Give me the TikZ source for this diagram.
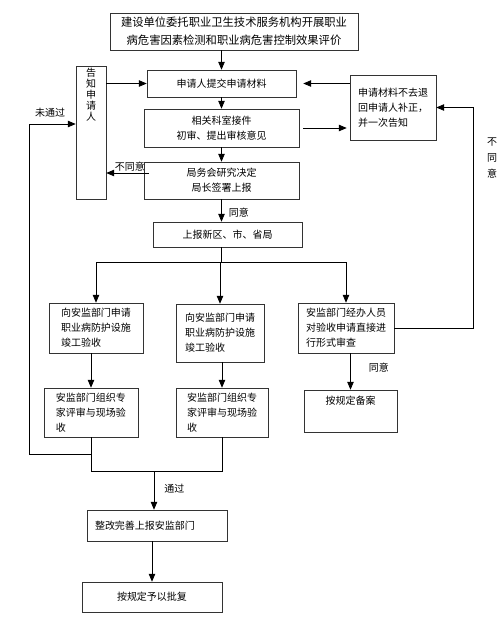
\documentclass[tikz,border=0pt]{standalone}
\usepackage{fontspec}
\setmainfont{Noto Sans CJK SC}
\usetikzlibrary{arrows,positioning,calc}

\tikzset{
  box/.style={draw=black!80, semithick, inner sep=2pt, font=\fontsize{10}{15}\selectfont},
  flow/.style={arrows=-triangle 45, thick},
  line/.style={thick},
  tag/.style={font=\fontsize{10}{12}\selectfont, inner sep=1pt},
}

\begin{document}
\begin{tikzpicture}[x=1pt,y=-1pt]
  \useasboundingbox (0,0) rectangle (500,633);

  \node[box, minimum width=248, minimum height=37, align=center, font=\fontsize{11.3}{18}\selectfont] (title) at (234,31.5) {建设单位委托职业卫生技术服务机构开展职业\\病危害因素检测和职业病危害控制效果评价};
  \node[box, minimum width=149, minimum height=27] (submit) at (221.5,83.5) {申请人提交申请材料};
  \node[box, minimum width=30, minimum height=133] (notify) at (91,132.5) {};
  \node[tag, align=center, font=\fontsize{10}{11}\selectfont, below=1pt of notify.north] (notifytext) {告\\知\\申\\请\\人};
  \node[box, minimum width=86, minimum height=65, align=left] (supplement) at (393,107.5) {申请材料不去退\\回申请人补正，\\并一次告知};
  \node[box, minimum width=155, minimum height=38, align=center] (review) at (221.5,128) {相关科室接件\\初审、提出审核意见};
  \node[box, minimum width=155, minimum height=37, align=center] (decide) at (221.5,180.5) {局务会研究决定\\局长签署上报};
  \node[box, minimum width=149, minimum height=25] (report) at (227.5,234.5) {上报新区、市、省局};

  \node[box, minimum width=94, minimum height=50, align=left] (apply1) at (96,328) {向安监部门申请\\职业病防护设施\\竣工验收};
  \node[box, minimum width=88, minimum height=58, align=left] (apply2) at (220,333) {向安监部门申请\\职业病防护设施\\竣工验收};
  \node[box, minimum width=96, minimum height=50, align=left] (check) at (346,328) {安监部门经办人员\\对验收申请直接进\\行形式审查};
  \node[box, minimum width=94, minimum height=49, align=left] (expert1) at (91,412.5) {安监部门组织专\\家评审与现场验\\收};
  \node[box, minimum width=92, minimum height=49, align=left] (expert2) at (222,412.5) {安监部门组织专\\家评审与现场验\\收};
  \node[box, minimum width=93, minimum height=42] (record) at (350.5,411) {};
  \node[tag, below=5pt of record.north] (recordtext) {按规定备案};
  \node[box, minimum width=140, minimum height=31, align=left, text width=124] (rectify) at (157,525.5) {整改完善上报安监部门};
  \node[box, minimum width=140, minimum height=30] (approve) at (152,597) {按规定予以批复};

  \draw[flow] (title.south -| submit.north) -- (submit.north);
  \draw[flow] (notify.east |- submit.west) -- (submit.west);
  \draw[flow, shorten >=7pt] (supplement.west |- submit.east) -- (submit.east);
  \draw[flow] (submit) -- (review);
  \draw[flow, shorten <=4pt, shorten >=3pt] (review.east) -- (review.east -| supplement.west);
  \draw[flow] (review) -- (decide);

  \coordinate (refuse) at (149,173);
  \draw[flow] (refuse) -- (refuse -| notify.east) node[tag, pos=0.45, above] (refusetext) {不同意};
  \draw[flow] (decide.south) -- (decide.south |- report.north) node[tag, pos=0.6, right=6pt] (agree1) {同意};

  \coordinate (split) at (221.5,262);
  \draw[line] (decide.south |- report.south) -- (split);
  \draw[flow] (split) -| (apply1.north);
  \draw[flow] (split) -| (apply2.north);
  \draw[flow] (split) -| (check.north);

  \draw[flow] (apply1.south -| expert1.north) -- (expert1.north);
  \draw[flow] (apply2.south -| expert2.north) -- (expert2.north);
  \draw[flow] (check.south -| record.north) -- (record.north) node[tag, pos=0.4, right=17pt] (agree2) {同意};

  \draw[flow] (check.east) -| ($(supplement.east)+(37,0)$) -- (supplement.east);
  \node[tag, align=center, font=\fontsize{10}{16}\selectfont] (refuse2) at (492,158) {不\\同\\意};

  \coordinate (merge) at (154,471);
  \draw[line] (expert1.south) -- (expert1.south |- merge) -- (expert2.south |- merge) -- (expert2.south);
  \draw[flow] (merge) -- (merge |- rectify.north) node[tag, pos=0.45, right=9pt] (pass) {通过};
  \draw[flow] (rectify.south -| approve.north) -- (approve.north);

  \coordinate (fail) at (29,454);
  \coordinate (failturn) at (29,124);
  \draw[flow] (fail -| expert1.south) -| (failturn) -- (failturn -| notify.west);
  \node[tag] (failtext) at (50,113) {未通过};
\end{tikzpicture}
\end{document}
